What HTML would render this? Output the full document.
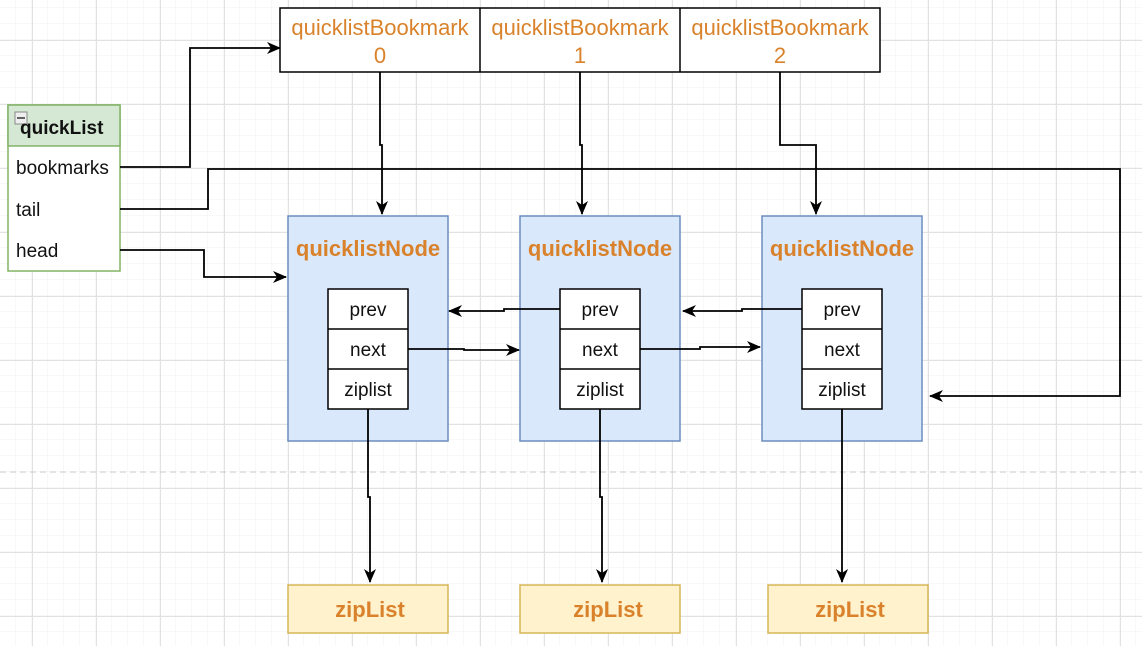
<!DOCTYPE html>
<html><head><meta charset="utf-8"><style>
html,body{margin:0;padding:0;background:#fff;}
svg{display:block;font-family:"Liberation Sans",Arial,sans-serif;}
</style></head><body>
<svg width="1142" height="646" viewBox="0 0 1142 646" xmlns="http://www.w3.org/2000/svg">
<defs>
<pattern id="minor" width="16" height="16" patternUnits="userSpaceOnUse" x="0" y="8">
<path d="M16 0V16M0 16H16" fill="none" stroke="#f0f0f0" stroke-width="1"/>
</pattern>
<pattern id="major" width="64" height="64" patternUnits="userSpaceOnUse" x="32" y="40">
<path d="M0.5 0V64M0 0.5H64" fill="none" stroke="#e2e2e2" stroke-width="1"/>
</pattern>
<marker id="ar" markerWidth="14" markerHeight="14" refX="13" refY="7" orient="auto" markerUnits="userSpaceOnUse">
<path d="M0,1 L14,7 L0,13 L4,7 Z" fill="#000"/>
</marker>
</defs>
<rect width="1142" height="646" fill="#fff"/>
<rect width="1142" height="646" fill="url(#minor)"/>
<rect width="1142" height="646" fill="url(#major)"/>
<line x1="0" y1="472" x2="1142" y2="472" stroke="#c8c8c8" stroke-dasharray="6,4"/>

<g stroke="#000" fill="#fff" stroke-width="1.5">
<rect x="280" y="8" width="600" height="64"/>
<line x1="480" y1="8" x2="480" y2="72"/>
<line x1="680" y1="8" x2="680" y2="72"/>
</g>
<g fill="#d9822b" font-size="22" text-anchor="middle">
<text x="380" y="35">quicklistBookmark</text><text x="380" y="63">0</text>
<text x="580" y="35">quicklistBookmark</text><text x="580" y="63">1</text>
<text x="780" y="35">quicklistBookmark</text><text x="780" y="63">2</text>
</g>

<rect x="8" y="105" width="112" height="166" fill="#fff" stroke="#82b366" stroke-width="1.5"/>
<rect x="8" y="105" width="112" height="41" fill="#d5e8d4" stroke="#82b366" stroke-width="1.5"/>
<rect x="15" y="112" width="12" height="12" fill="#eee" stroke="#888"/>
<line x1="17" y1="118" x2="25" y2="118" stroke="#333" stroke-width="1.5"/>
<text x="20" y="134" font-size="19" font-weight="bold" fill="#111">quickList</text>
<g font-size="19" fill="#111">
<text x="16" y="174">bookmarks</text>
<text x="16" y="216">tail</text>
<text x="16" y="257">head</text>
</g>

<g>
<rect x="288" y="216" width="160" height="225" fill="#dae8fc" stroke="#6c8ebf" stroke-width="1.5"/>
<rect x="520" y="216" width="160" height="225" fill="#dae8fc" stroke="#6c8ebf" stroke-width="1.5"/>
<rect x="762" y="216" width="160" height="225" fill="#dae8fc" stroke="#6c8ebf" stroke-width="1.5"/>
</g>
<g fill="#d9822b" font-size="22" font-weight="bold" text-anchor="middle">
<text x="368" y="256">quicklistNode</text>
<text x="600" y="256">quicklistNode</text>
<text x="842" y="256">quicklistNode</text>
</g>
<g stroke="#000" fill="#fff" stroke-width="1.5">
<rect x="328" y="289" width="80" height="120"/><line x1="328" y1="329" x2="408" y2="329"/><line x1="328" y1="369" x2="408" y2="369"/>
<rect x="560" y="289" width="80" height="120"/><line x1="560" y1="329" x2="640" y2="329"/><line x1="560" y1="369" x2="640" y2="369"/>
<rect x="802" y="289" width="80" height="120"/><line x1="802" y1="329" x2="882" y2="329"/><line x1="802" y1="369" x2="882" y2="369"/>
</g>
<g font-size="19" fill="#111" text-anchor="middle">
<text x="368" y="316">prev</text><text x="368" y="356">next</text><text x="368" y="396">ziplist</text>
<text x="600" y="316">prev</text><text x="600" y="356">next</text><text x="600" y="396">ziplist</text>
<text x="842" y="316">prev</text><text x="842" y="356">next</text><text x="842" y="396">ziplist</text>
</g>

<g fill="#fff2cc" stroke="#d6b656" stroke-width="1.5">
<rect x="288" y="585" width="160" height="48"/>
<rect x="520" y="585" width="160" height="48"/>
<rect x="768" y="585" width="160" height="48"/>
</g>
<g fill="#d9822b" font-size="22" font-weight="bold" text-anchor="middle">
<text x="370" y="617">zipList</text>
<text x="608" y="617">zipList</text>
<text x="850" y="617">zipList</text>
</g>

<g fill="none" stroke="#000" stroke-width="1.8" marker-end="url(#ar)">
<path d="M120 167H190V48H280"/>
<path d="M120 209H208V169H1120V396H930"/>
<path d="M120 250H204V277H286"/>
<path d="M380 72V145H382V214"/>
<path d="M580 72V145H582V214"/>
<path d="M780 72V145H816V214"/>
<path d="M560 309H504V311H449"/>
<path d="M802 309H742V311H683"/>
<path d="M408 349H464V350H519"/>
<path d="M640 349H700V347H760"/>
<path d="M368 409V497H370V582"/>
<path d="M600 409V497H602V582"/>
<path d="M842 409V582"/>
</g>
</svg>
</body></html>
